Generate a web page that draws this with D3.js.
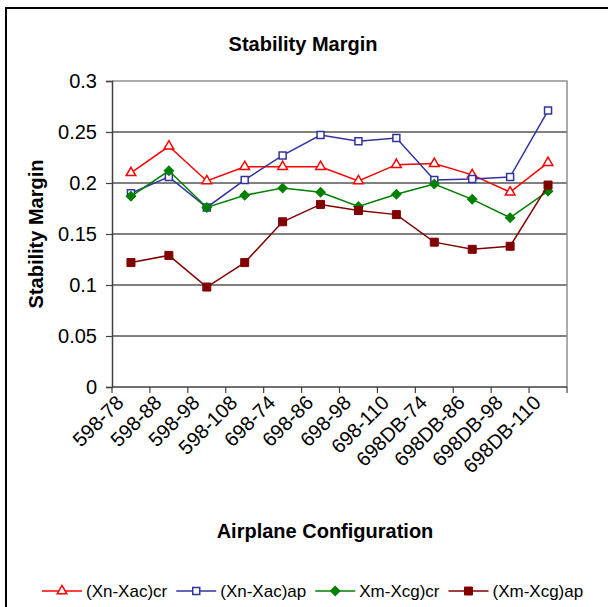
<!DOCTYPE html>
<html>
<head>
<meta charset="utf-8">
<script src="https://cdn.jsdelivr.net/npm/d3@7/dist/d3.min.js"></script>
<style>
  body { margin: 0; background: #fff; }
  text { font-family: "Liberation Sans", Arial, sans-serif; fill: #000; }
</style>
</head>
<body>
<div id="chart"></div>
<script>
const configs = ['598-78', '598-88', '598-98', '598-108', '698-74', '698-86', '698-98',
    '698-110', '698DB-74', '698DB-86', '698DB-98', '698DB-110'];
const xnXacCr = [0.210, 0.236, 0.202, 0.216, 0.216, 0.216, 0.202, 0.218, 0.219, 0.208, 0.191, 0.220];
const xnXacAp = [0.190, 0.206, 0.176, 0.203, 0.227, 0.247, 0.241, 0.244, 0.203, 0.204, 0.206, 0.271];
const xmXcgCr = [0.187, 0.212, 0.176, 0.188, 0.195, 0.191, 0.177, 0.189, 0.199, 0.184, 0.166, 0.192];
const xmXcgAp = [0.122, 0.129, 0.098, 0.122, 0.162, 0.179, 0.173, 0.169, 0.142, 0.135, 0.138, 0.198];
const yTicks = [0, 0.05, 0.1, 0.15, 0.2, 0.25, 0.3];

const series = [
    { name: '(Xn-Xac)cr', values: xnXacCr, color: '#ff0000', marker: 'triangle' },
    { name: '(Xn-Xac)ap', values: xnXacAp, color: '#3333a0', marker: 'square' },
    { name: 'Xm-Xcg)cr', values: xmXcgCr, color: '#008000', marker: 'diamond' },
    { name: '(Xm-Xcg)ap', values: xmXcgAp, color: '#800000', marker: 'filled' }
];

const W = 608, H = 607;
const plot = { left: 112, top: 81, right: 567, bottom: 387 };

const svg = d3.select('#chart').append('svg')
    .attr('width', W)
    .attr('height', H);

// outer chart border (runs off the right and bottom edges)
svg.append('rect')
    .attr('x', 6).attr('y', 8)
    .attr('width', 720).attr('height', 720)
    .attr('fill', 'none')
    .attr('stroke', '#000')
    .attr('stroke-width', 2);

const xScale = d3.scaleBand()
    .domain(configs)
    .range([plot.left, plot.right])
    .padding(0);

const yScale = d3.scaleLinear()
    .domain([0, 0.3])
    .range([plot.bottom, plot.top]);

// gridlines
svg.append('g')
    .selectAll('line')
    .data(yTicks.filter(d => d > 0 && d < 0.3))
    .enter().append('line')
    .attr('x1', plot.left).attr('x2', plot.right)
    .attr('y1', d => yScale(d)).attr('y2', d => yScale(d))
    .attr('stroke', '#000')
    .attr('stroke-width', 1);

// plot area frame: gray top and right
svg.append('path')
    .attr('d', `M${plot.left},${yScale(0.3)}H${plot.right}V${plot.bottom}`)
    .attr('fill', 'none')
    .attr('stroke', '#909090')
    .attr('stroke-width', 1.5);

// y axis
const yAxis = svg.append('g')
    .attr('transform', `translate(${plot.left},0)`)
    .call(d3.axisLeft(yScale).tickValues(yTicks).tickSize(6).tickPadding(9)
        .tickFormat(d => String(d)));
yAxis.select('.domain').attr('stroke', '#404040').attr('stroke-width', 1.5);
yAxis.selectAll('.tick line').attr('stroke', '#404040').attr('stroke-width', 1.2);
yAxis.selectAll('text').attr('font-size', 20).attr('font-family', '"Liberation Sans", Arial, sans-serif');

// x axis: line, boundary ticks, rotated labels
const xAxis = svg.append('g');
xAxis.append('line')
    .attr('x1', plot.left).attr('x2', plot.right)
    .attr('y1', plot.bottom).attr('y2', plot.bottom)
    .attr('stroke', '#404040').attr('stroke-width', 1.5);
const bounds = configs.map(c => xScale(c)).concat([plot.right]);
xAxis.selectAll('.xtick')
    .data(bounds)
    .enter().append('line')
    .attr('x1', d => d).attr('x2', d => d)
    .attr('y1', plot.bottom).attr('y2', plot.bottom + 6)
    .attr('stroke', '#404040').attr('stroke-width', 1.2);
xAxis.selectAll('.xlabel')
    .data(configs)
    .enter().append('text')
    .attr('text-anchor', 'end')
    .attr('font-size', 20)
    .attr('transform', d => {
        const cx = xScale(d) + xScale.bandwidth() / 2 - 6;
        return `translate(${cx},${plot.bottom + 17}) rotate(-45)`;
    })
    .text(d => d);

// lines and markers
const line = d3.line()
    .x((d, i) => xScale(configs[i]) + xScale.bandwidth() / 2)
    .y(d => yScale(d));

const drawMarker = (sel, s) => {
    if (s.marker === 'triangle') {
        sel.append('path').attr('d', d3.symbol(d3.symbolTriangle, 40)())
            .attr('fill', '#fff').attr('stroke', s.color).attr('stroke-width', 1.5);
    } else if (s.marker === 'square') {
        sel.append('path').attr('d', d3.symbol(d3.symbolSquare, 49)())
            .attr('fill', '#fff').attr('stroke', s.color).attr('stroke-width', 1.5);
    } else if (s.marker === 'diamond') {
        sel.append('path').attr('d', d3.symbol(d3.symbolSquare, 45)())
            .attr('transform', 'rotate(45)')
            .attr('fill', s.color).attr('stroke', s.color).attr('stroke-width', 1);
    } else {
        sel.append('path').attr('d', d3.symbol(d3.symbolSquare, 64)())
            .attr('fill', s.color).attr('stroke', s.color).attr('stroke-width', 1);
    }
};

series.forEach(s => {
    const g = svg.append('g');
    g.append('path')
        .datum(s.values)
        .attr('d', line)
        .attr('fill', 'none')
        .attr('stroke', s.color)
        .attr('stroke-width', 1.5);
    g.selectAll('.pt')
        .data(s.values)
        .enter().append('g')
        .attr('transform', (d, i) =>
            `translate(${xScale(configs[i]) + xScale.bandwidth() / 2},${yScale(d)})`)
        .each(function () { drawMarker(d3.select(this), s); });
});

// titles
svg.append('text')
    .attr('x', 303).attr('y', 51)
    .attr('text-anchor', 'middle')
    .attr('font-size', 20).attr('font-weight', 'bold')
    .text('Stability Margin');

svg.append('text')
    .attr('transform', `translate(43,${(plot.top + plot.bottom) / 2}) rotate(-90)`)
    .attr('text-anchor', 'middle')
    .attr('font-size', 20).attr('font-weight', 'bold')
    .text('Stability Margin');

svg.append('text')
    .attr('x', 325).attr('y', 538)
    .attr('text-anchor', 'middle')
    .attr('font-size', 20).attr('font-weight', 'bold')
    .text('Airplane Configuration');

// legend
const legend = svg.append('g').attr('transform', 'translate(0,591)');
let lx = 42;
series.forEach(s => {
    const item = legend.append('g').attr('transform', `translate(${lx},0)`);
    item.append('line')
        .attr('x1', 0).attr('x2', 40)
        .attr('stroke', s.color).attr('stroke-width', 1.5);
    drawMarker(item.append('g').attr('transform', 'translate(20,0)'), s);
    const t = item.append('text')
        .attr('x', 44).attr('y', 6)
        .attr('font-size', 17)
        .text(s.name);
    lx += 44 + t.node().getComputedTextLength() + 9;
});
</script>
</body>
</html>
